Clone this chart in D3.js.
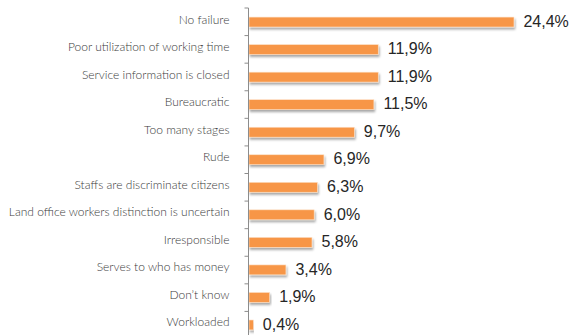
<!DOCTYPE html>
<html>
<head>
<meta charset="utf-8">
<script src="https://cdn.jsdelivr.net/npm/d3@7"></script>
<style>
  html, body { margin: 0; padding: 0; background: #fff; }
  svg { display: block; }
  .cat text { font-family: "Lato", sans-serif; font-weight: 300; font-size: 12px; fill: #3a3a3a; }
  .val { font-family: "Liberation Sans", Arial, sans-serif; font-size: 16px; fill: #262626; }
</style>
</head>
<body>
<svg id="chart" width="581" height="335"></svg>
<script>
// Reported failures of land office staff, share of answers (%)
const categories = [
  "No failure",
  "Poor utilization of working time",
  "Service information is closed",
  "Bureaucratic",
  "Too many stages",
  "Rude",
  "Staffs are discriminate citizens",
  "Land office workers distinction is uncertain",
  "Irresponsible",
  "Serves to who has money",
  "Don\u2019t know",
  "Workloaded"
];
const values = [24.4, 11.9, 11.9, 11.5, 9.7, 6.9, 6.3, 6.0, 5.8, 3.4, 1.9, 0.4];
const valueLabels = ["24,4%", "11,9%", "11,9%", "11,5%", "9,7%", "6,9%", "6,3%", "6,0%", "5,8%", "3,4%", "1,9%", "0,4%"];

const svg = d3.select("#chart");

const axisX = 248.5;
const x = d3.scaleLinear().domain([0, 30]).range([axisX, axisX + 325.8]);
const y = d3.scaleBand().domain(categories).range([8, 339]).paddingInner(0.64).paddingOuter(0.33);

// soft drop shadow under each bar
const defs = svg.append("defs");
const f = defs.append("filter").attr("id", "shadow")
  .attr("x", "-5%").attr("y", "-30%").attr("width", "115%").attr("height", "190%");
f.append("feDropShadow").attr("dx", 1).attr("dy", 2.2).attr("stdDeviation", 0.8)
  .attr("flood-color", "#000").attr("flood-opacity", 0.35);

// bars
svg.append("g").selectAll("rect")
  .data(values)
  .join("rect")
  .attr("x", x(0) + 0.5)
  .attr("y", (d, i) => y(categories[i]))
  .attr("width", d => x(d) - x(0))
  .attr("height", y.bandwidth())
  .attr("fill", "#f79646")
  .attr("stroke", "#fde2c9")
  .attr("stroke-width", 0.6)
  .attr("filter", "url(#shadow)");

// category axis with ticks between bands
const tickScale = d3.scaleLinear().domain([0, categories.length]).range([8, 339]);
const gAxis = svg.append("g").attr("class", "cat");
gAxis.append("line")
  .attr("x1", axisX).attr("x2", axisX)
  .attr("y1", tickScale(0)).attr("y2", tickScale(categories.length))
  .attr("stroke", "#8c8c8c").attr("stroke-width", 1);
gAxis.selectAll("line.tick")
  .data(d3.range(categories.length + 1))
  .join("line").attr("class", "tick")
  .attr("x1", axisX - 4).attr("x2", axisX)
  .attr("y1", d => tickScale(d)).attr("y2", d => tickScale(d))
  .attr("stroke", "#8c8c8c").attr("stroke-width", 1);
gAxis.selectAll("text")
  .data(categories)
  .join("text")
  .attr("x", axisX - 19)
  .attr("y", d => y(d) + y.bandwidth() / 2 - 1.5)
  .attr("text-anchor", "end")
  .attr("dominant-baseline", "middle")
  .text(d => d);

// value labels
svg.append("g").selectAll("text")
  .data(values)
  .join("text")
  .attr("class", "val")
  .attr("x", d => x(d) + 10)
  .attr("y", (d, i) => y(categories[i]) + y.bandwidth() / 2 + 0.5)
  .attr("dominant-baseline", "middle")
  .text((d, i) => valueLabels[i]);
</script>
</body>
</html>
